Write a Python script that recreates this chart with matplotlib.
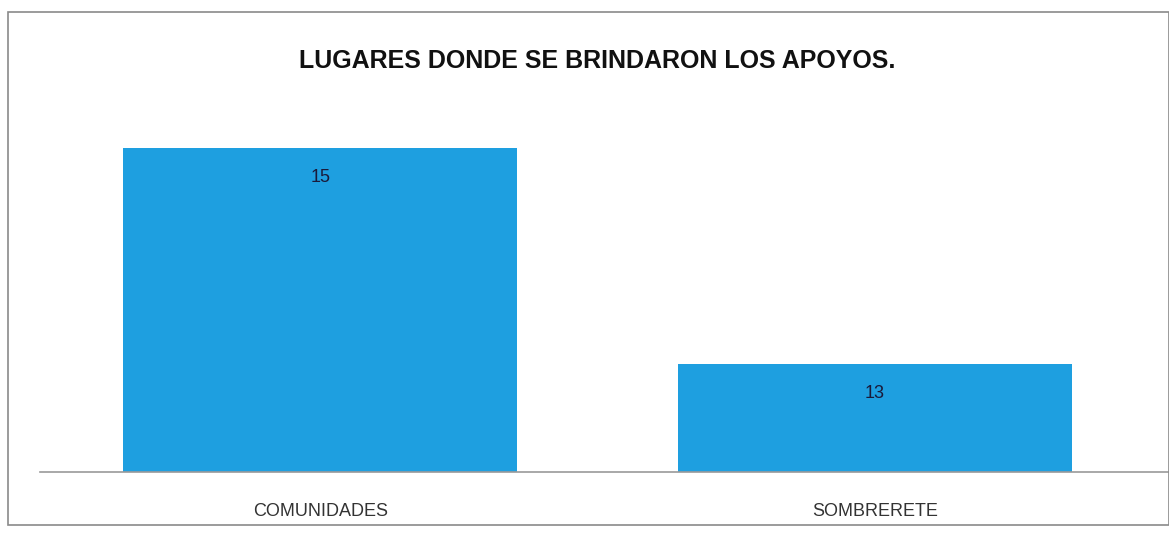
import matplotlib
matplotlib.use("Agg")
import matplotlib.pyplot as plt
from matplotlib.patches import Rectangle

categories = ["COMUNIDADES", "SOMBRERETE"]
values = [15, 13]
title = "LUGARES DONDE SE BRINDARON LOS APOYOS."

plt.rcParams['font.family'] = ['Liberation Sans', 'DejaVu Sans']

W, H = 1169, 536
fig = plt.figure(figsize=(W / 100, H / 100), dpi=100)
fig.patch.set_facecolor("white")

# chart-area border
fig.patches.append(Rectangle((8 / W, 1 - 525 / H), (W - 8) / W, (525 - 12) / H,
                             transform=fig.transFigure, fill=False,
                             edgecolor="#8a8a8a", linewidth=1.2))

ax_left, ax_right = 40 / W, 1.0
ax_bottom = 1 - 472 / H
ax_top = 1 - 126 / H
ax = fig.add_axes([ax_left, ax_bottom, ax_right - ax_left, ax_top - ax_bottom])

x = list(range(len(categories)))
bars = ax.bar(x, values, width=0.71, color="#1e9fe0", zorder=2)
ax.set_ylim(12, 15.2)
ax.set_xlim(-0.505, 1.53)

for b, v in zip(bars, values):
    ax.text(b.get_x() + b.get_width() / 2, v - 0.2, str(v),
            ha="center", va="top", fontsize=13, color="#1a1a3a")

ax.set_xticks(x)
ax.set_xticklabels(categories, fontsize=13, color="#333333")
ax.tick_params(axis="x", length=0, pad=22)
ax.set_yticks([])
for s in ["top", "right", "left"]:
    ax.spines[s].set_visible(False)
ax.spines["bottom"].set_color("#9a9a9a")
ax.spines["bottom"].set_linewidth(1.2)

fig.text(597 / W, 1 - 61 / H, title, ha="center", va="center",
         fontsize=18, fontweight="bold", color="#111111")

fig.savefig("out.png", dpi=100)
